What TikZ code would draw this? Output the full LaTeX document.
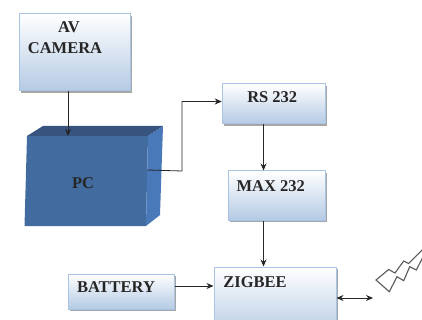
\documentclass[tikz,border=0pt]{standalone}
\usepackage{fontspec}
\setmainfont{Liberation Serif}
\usetikzlibrary{arrows.meta, calc, positioning, shadows}
\definecolor{boxedge}{HTML}{A9C4E4}
\definecolor{boxfill}{HTML}{B4CAE4}
\definecolor{pcfront}{HTML}{426CA0}
\definecolor{pctop}{HTML}{37547F}
\definecolor{pcside}{HTML}{4A79B9}

\begin{document}
\begin{tikzpicture}[
        x=1pt, y=-1pt,
        block/.style={rectangle, draw=boxedge, line width=1pt, top color=white, bottom color=boxfill,
            inner sep=0pt, drop shadow={shadow xshift=1.5pt, shadow yshift=-1.8pt, fill=black!50, opacity=0.7}},
        blocktext/.style={font=\bfseries\fontsize{16.5}{21}\selectfont, text=black!85, align=center, inner sep=0pt},
        link/.style={-{Stealth[length=7pt, width=6pt]}, line width=1pt, black!85}
    ]
        \useasboundingbox (0,0) rectangle (422,320);
        \clip (0,0) rectangle (422,320);

        \node[block, minimum width=111pt, minimum height=77pt] (camera) at (74.5,52.5) {};
        \node[block, minimum width=103pt, minimum height=40pt] (rs) at (273.75,104) {};
        \node[block, minimum width=97pt, minimum height=49pt, below=46pt of rs.south east, anchor=north east] (max) {};
        \node[block, minimum width=122pt, minimum height=70pt] (zigbee) at (275,302) {};
        \node[block, minimum width=106pt, minimum height=35pt] (battery) at (121,291.5) {};

        % PC box
        \fill[pcfront] (27,136) -- (148,136) -- (146,226) -- (24.5,226) -- cycle;
        \fill[pctop] (27,136) -- (43,126) -- (163,126) -- (148,136) -- cycle;
        \fill[pcside] (148,136) -- (163,126) -- (160,215) -- (146,226) -- cycle;
        \coordinate (pctopin) at (68,136);
        \coordinate (pcout) at (147,170);
        \coordinate (antenna) at (373,298);

        % Labels
        \node[blocktext] (avtext) at ($(camera)+(-5.5,-25)$) {AV};
        \node[blocktext] (cameratext) at ($(camera)+(-9.5,-4)$) {CAMERA};
        \node[blocktext] (pctext) at (83,183) {PC};
        \node[blocktext] (rstext) at ($(rs)+(-1.5,-7)$) {RS 232};
        \node[blocktext] (maxtext) at ($(max)+(-6,-9.5)$) {MAX 232};
        \node[blocktext] (zigbeetext) at ($(zigbee)+(-20,-20)$) {ZIGBEE};
        \node[blocktext] (batterytext) at ($(battery)+(-5,-4.5)$) {BATTERY};

        % Links
        \draw[link] (camera.south -| pctopin) -- (pctopin);
        \draw[link, line width=0.8pt] (pcout) -- (182,171) -- (182,101.5) -- (rs.west |- 0,101.5);
        \draw[link] (263.5,0 |- rs.south) -- (263.5,0 |- max.north);
        \draw[link] (263.5,0 |- max.south) -- (263.5,0 |- zigbee.north);
        \draw[link] (battery.east |- 0,286) -- (zigbee.west |- 0,286);
        \draw[{Stealth[length=7pt, width=6pt]}-{Stealth[length=7pt, width=6pt]}, line width=1pt, black!85] (zigbee.east |- antenna) -- (antenna);

        % Antenna bolt
        \draw[black!65, fill=white, line width=1.1pt] (376,280) -- (388.7,269.5) -- (395,273) -- (403.7,261) -- (408.7,263.5) -- (425,247)
            -- (425,253) -- (416.3,270) -- (409.7,266.7) -- (403.7,280.7) -- (397,276.7) -- (389.3,291.7) -- cycle;
    \end{tikzpicture}
\end{document}
